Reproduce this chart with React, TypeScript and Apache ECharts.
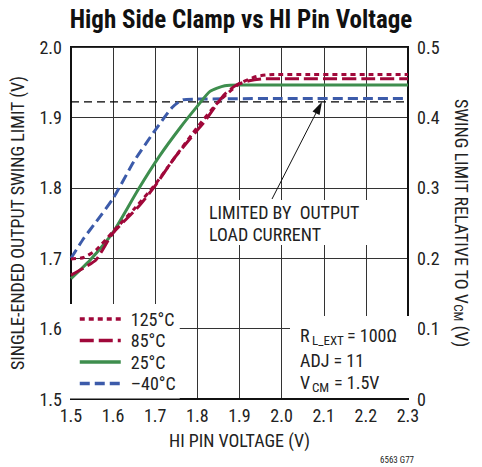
import React, { useEffect, useRef } from 'react';
import * as echarts from 'echarts';

const FONT = "'Liberation Sans Narrow', 'Roboto Condensed', 'DejaVu Sans Condensed', 'Liberation Sans', sans-serif";

const seriesNames = ['125°C', '85°C', '25°C', '–40°C'];

const t125X = [1.5, 1.53, 1.56, 1.6, 1.65, 1.7, 1.75, 1.8, 1.85, 1.9, 1.94, 1.98, 2.3];
const t125Y = [1.699, 1.701, 1.712, 1.738, 1.77, 1.805, 1.846, 1.886, 1.922, 1.948, 1.958, 1.961, 1.961];

const t85X = [1.5, 1.53, 1.56, 1.6, 1.66, 1.7, 1.745, 1.8, 1.817, 1.863, 1.893, 1.923, 1.96, 2.3];
const t85Y = [1.676, 1.686, 1.698, 1.736, 1.773, 1.803, 1.842, 1.882, 1.894, 1.932, 1.946, 1.952, 1.955, 1.955];

const t25X = [1.5, 1.545, 1.6, 1.66, 1.71, 1.76, 1.8, 1.83, 1.865, 1.9, 2.3];
const t25Y = [1.671, 1.697, 1.737, 1.798, 1.845, 1.886, 1.916, 1.937, 1.945, 1.946, 1.946];

const tm40X = [1.5, 1.53, 1.56, 1.6, 1.65, 1.7, 1.74, 1.765, 1.8, 2.0, 2.3];
const tm40Y = [1.7, 1.728, 1.752, 1.785, 1.838, 1.882, 1.914, 1.925, 1.926, 1.927, 1.927];

const limitX = [1.5, 2.3];
const limitY = [1.922, 1.922];

const colors = ['#A0083A', '#A0083A', '#3E8E4E', '#3C5BAA'];

const zip = (xs: number[], ys: number[]) => xs.map((x, i) => [x, ys[i]]);

export default function App() {
  const ref = useRef<HTMLDivElement>(null);
  useEffect(() => {
    if (!ref.current) return;
    document.body.style.margin = '0';
    const chart = echarts.init(ref.current, undefined, { renderer: 'svg' });
    const lineSeries = (name: string, xs: number[], ys: number[], color: string, type: any, z: number) => ({
      name,
      type: 'line',
      data: zip(xs, ys),
      showSymbol: false,
      symbol: 'none',
      smooth: 0.2,
      lineStyle: { color, width: 3, type },
      itemStyle: { color },
      z,
    });
    const txt = (text: string, x: number, y: number, size: number, extra: any = {}) => ({
      type: 'text',
      x,
      y,
      z: 20,
      style: { text, fontSize: size, fontFamily: FONT, fill: '#222', ...extra },
    });
    chart.setOption({
      animation: false,
      backgroundColor: '#fff',
      title: {
        text: 'High Side Clamp vs HI Pin Voltage',
        left: 'center',
        top: 2,
        textStyle: { fontFamily: FONT, fontSize: 25, fontWeight: 'bold', color: '#111' },
      },
      grid: { left: 67, right: 63, top: 47, bottom: 68, show: true, borderColor: '#111', borderWidth: 2 },
      legend: {
        data: seriesNames,
        orient: 'vertical',
        left: 69,
        top: 304,
        padding: [6, 4, 6, 9],
        itemWidth: 41,
        itemHeight: 12,
        itemGap: 3.5,
        backgroundColor: '#fff',
        itemStyle: { opacity: 0, borderWidth: 0 },
        lineStyle: { width: 3.5 },
        textStyle: { fontFamily: FONT, fontSize: 18, color: '#222', lineHeight: 18, padding: [0, 0, 0, 5] },
      },
      xAxis: {
        type: 'value',
        min: 1.5,
        max: 2.3,
        interval: 0.1,
        name: 'HI PIN VOLTAGE (V)',
        nameLocation: 'middle',
        nameGap: 32,
        nameTextStyle: { fontFamily: FONT, fontSize: 18, color: '#222' },
        axisLine: { lineStyle: { color: '#111', width: 2 } },
        axisTick: { show: false },
        axisLabel: { fontFamily: FONT, fontSize: 18, color: '#222', margin: 7, formatter: (v: number) => v.toFixed(1) },
        splitLine: { show: true, lineStyle: { color: '#333', width: 1 } },
      },
      yAxis: [
        {
          type: 'value',
          min: 1.5,
          max: 2.0,
          interval: 0.1,
          name: 'SINGLE-ENDED OUTPUT SWING LIMIT (V)',
          nameLocation: 'middle',
          nameGap: 45,
          nameTextStyle: { fontFamily: FONT, fontSize: 18, color: '#222' },
          axisLine: { show: true, lineStyle: { color: '#111', width: 2 } },
          axisTick: { show: false },
          axisLabel: { fontFamily: FONT, fontSize: 18, color: '#222', margin: 9, formatter: (v: number) => v.toFixed(1) },
          splitLine: { show: true, lineStyle: { color: '#333', width: 1 } },
        },
        {
          type: 'value',
          min: 0,
          max: 0.5,
          interval: 0.1,
          position: 'right',
          name: '{a|SWING LIMIT RELATIVE TO V}{s|CM}{a| (V)}',
          nameLocation: 'middle',
          nameRotate: -90,
          nameGap: 44,
          nameTextStyle: {
            fontFamily: FONT,
            fontSize: 18,
            color: '#222',
            rich: {
              a: { fontFamily: FONT, fontSize: 18, color: '#222', lineHeight: 18, verticalAlign: 'top' },
              s: { fontFamily: FONT, fontSize: 13, color: '#222', lineHeight: 13, padding: [9, 0, 0, 0], verticalAlign: 'bottom' },
            },
          },
          axisLine: { show: true, lineStyle: { color: '#111', width: 2 } },
          axisTick: { show: false },
          axisLabel: { fontFamily: FONT, fontSize: 18, color: '#222', margin: 9, formatter: (v: number) => (v === 0 ? '0' : v.toFixed(1)) },
          splitLine: { show: false },
        },
      ],
      series: [
        {
          name: 'limit',
          type: 'line',
          data: zip(limitX, limitY),
          showSymbol: false,
          symbol: 'none',
          lineStyle: { color: '#000', width: 1.2, type: [8, 5] },
          z: 1,
          silent: true,
        },
        lineSeries(seriesNames[3], tm40X, tm40Y, colors[3], [10, 5], 2),
        lineSeries(seriesNames[2], t25X, t25Y, colors[2], 'solid', 3),
        lineSeries(seriesNames[1], t85X, t85Y, colors[1], [14, 5], 4),
        lineSeries(seriesNames[0], t125X, t125Y, colors[0], [5, 4], 5),
      ],
      graphic: [
        { type: 'rect', z: 10, shape: { x: 290, y: 316, width: 128, height: 82 }, style: { fill: '#fff' } },
        { type: 'rect', z: 10, shape: { x: 205, y: 200, width: 167, height: 45 }, style: { fill: '#fff' } },
        txt('LIMITED BY  OUTPUT', 209, 203, 18),
        txt('LOAD CURRENT', 209, 225, 18),
        txt('R', 300, 326, 18),
        txt('L_EXT', 312, 334, 13),
        txt('= 100Ω', 347, 326, 18),
        txt('ADJ = 11', 300, 351, 18),
        txt('V', 300, 373, 18),
        txt('CM', 312, 381, 13),
        txt('= 1.5V', 334, 373, 18),
        txt('6563 G77', 380, 455, 9),
        {
          type: 'line',
          z: 20,
          shape: { x1: 272, y1: 199, x2: 316, y2: 113 },
          style: { stroke: '#111', lineWidth: 1 },
        },
        {
          type: 'polygon',
          z: 20,
          shape: { points: [[322, 101.7], [319.6, 115.1], [312.5, 111.4]] },
          style: { fill: '#111' },
        },
      ],
    });
    return () => chart.dispose();
  }, []);
  return <div ref={ref} style={{ width: 482, height: 467 }} />;
}
